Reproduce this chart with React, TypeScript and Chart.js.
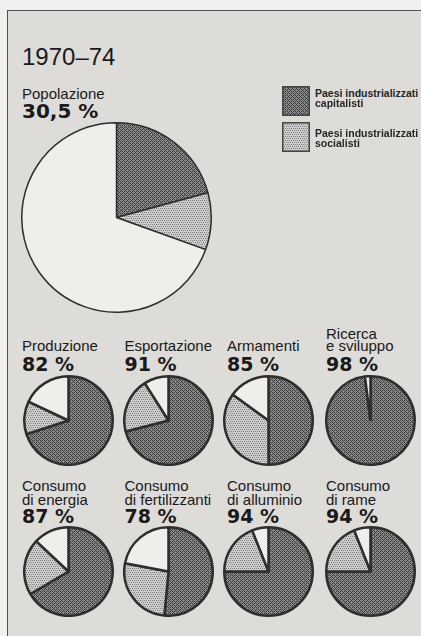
import React, { useEffect, useRef } from 'react';
import { Chart, registerables } from 'chart.js';

Chart.register(...registerables);

// ---- data ----
const groups = ['Paesi industrializzati capitalisti', 'Paesi industrializzati socialisti', 'Resto del mondo'];
const legendLines = [
  ['Paesi industrializzati', 'capitalisti'],
  ['Paesi industrializzati', 'socialisti'],
];

const mainTitle = '1970–74';
const populationLabel = 'Popolazione';
const populationPercent = '30,5 %';
const populationValues = [20.8, 9.7, 69.5];

const smallTitles = [
  ['Produzione'],
  ['Esportazione'],
  ['Armamenti'],
  ['Ricerca', 'e sviluppo'],
  ['Consumo', 'di energia'],
  ['Consumo', 'di fertilizzanti'],
  ['Consumo', 'di alluminio'],
  ['Consumo', 'di rame'],
];
const smallPercents = ['82 %', '91 %', '85 %', '98 %', '87 %', '78 %', '94 %', '94 %'];
const capitalistShares = [70, 71, 50, 98, 66.5, 51.5, 75, 75];
const socialistShares = [12, 20, 35, 0, 20.5, 26.5, 19, 19];
const otherShares = [18, 9, 15, 2, 13, 22, 6, 6];

// ---- styling / layout ----
const BG = '#dddcd8';
const OUTER_BG = '#efefed';
const WHITE = '#efeeea';
const LINE = '#2e2e2e';
const TEXT = '#1a1a1a';
const SANS = '"Liberation Sans", Arial, Helvetica, sans-serif';
const BOLD = '"DejaVu Sans", "Liberation Sans", sans-serif';

const colTextX = [22, 124.5, 227, 326];
const pieCX = [68, 168.5, 268.5, 370];
const rowPieCY = [420.5, 571];
const rowTitleBase = [351, 504.3];
const rowTitleGap = [12.5, 13.8];
const rowPercentBase = [371, 523.3];

function makeTile(kind: 'dark' | 'light'): HTMLCanvasElement {
  const t = document.createElement('canvas');
  t.width = 4;
  t.height = 4;
  const c = t.getContext('2d')!;
  if (kind === 'dark') {
    c.fillStyle = '#8a8a8a';
    c.fillRect(0, 0, 4, 4);
    c.fillStyle = '#3a3a3a';
    for (let x = 0; x < 4; x++)
      for (let y = 0; y < 4; y++)
        if ((x + y) % 4 === 0 || (x - y + 4) % 4 === 0) c.fillRect(x, y, 1, 1);
  } else {
    c.fillStyle = '#cdcdcb';
    c.fillRect(0, 0, 4, 4);
    c.fillStyle = '#808080';
    for (let x = 0; x < 4; x += 2)
      for (let y = 0; y < 4; y += 2) c.fillRect(x + ((y / 2) % 2), y, 1, 1);
  }
  return t;
}

function PieChart({ values, cx, cy, size, border }: { values: number[]; cx: number; cy: number; size: number; border: number }) {
  const ref = useRef<HTMLCanvasElement>(null);
  useEffect(() => {
    const canvas = ref.current!;
    const ctx = canvas.getContext('2d')!;
    const dark = ctx.createPattern(makeTile('dark'), 'repeat')!;
    const light = ctx.createPattern(makeTile('light'), 'repeat')!;
    const chart = new Chart(canvas, {
      type: 'pie',
      data: {
        labels: groups,
        datasets: [
          {
            data: values,
            backgroundColor: [dark, light, WHITE] as any,
            borderColor: LINE,
            borderWidth: border,
            hoverOffset: 0,
            offset: 0,
          },
        ],
      },
      options: {
        responsive: false,
        animation: false,
        events: [],
        layout: { padding: 0 },
        plugins: { legend: { display: false }, tooltip: { enabled: false }, title: { display: false } },
      },
    });
    return () => chart.destroy();
  }, []);
  return (
    <canvas
      ref={ref}
      width={size}
      height={size}
      style={{ position: 'absolute', left: cx - size / 2, top: cy - size / 2, width: size, height: size }}
    />
  );
}

function Txt({ x, base, size, bold, children, color }: { x: number; base: number; size: number; bold?: boolean; children: React.ReactNode; color?: string }) {
  return (
    <span
      style={{
        position: 'absolute',
        left: x,
        top: base - 0.846 * size,
        fontSize: size,
        lineHeight: `${size}px`,
        fontFamily: bold ? BOLD : SANS,
        fontWeight: bold ? 700 : 400,
        color: color || TEXT,
        whiteSpace: 'nowrap',
      }}
    >
      {children}
    </span>
  );
}

function LegendBox({ kind, x, y }: { kind: 'dark' | 'light'; x: number; y: number }) {
  const ref = useRef<HTMLCanvasElement>(null);
  useEffect(() => {
    const c = ref.current!.getContext('2d')!;
    c.fillStyle = c.createPattern(makeTile(kind), 'repeat')!;
    c.fillRect(0, 0, 28, 30);
    c.strokeStyle = '#444444';
    c.lineWidth = 1.5;
    c.strokeRect(0.75, 0.75, 26.5, 28.5);
  }, []);
  return <canvas ref={ref} width={28} height={30} style={{ position: 'absolute', left: x, top: y, width: 28, height: 30 }} />;
}

export default function App() {
  const legendTop = [86, 122];
  const legendBase = [[96.7, 107], [137, 147.3]];
  return (
    <div style={{ position: 'absolute', left: 0, top: 0, width: 421, height: 636, overflow: 'hidden', background: OUTER_BG }}>
      <div
        style={{
          position: 'absolute',
          left: 7,
          top: 10,
          width: 440,
          height: 660,
          background: BG,
          borderLeft: '1.5px solid #505050',
          borderTop: '1.5px solid #505050',
        }}
      />
      <Txt x={22} base={65} size={24}>{mainTitle}</Txt>
      <Txt x={22} base={98.3} size={15}>{populationLabel}</Txt>
      <Txt x={22} base={117.5} size={20} bold>{populationPercent}</Txt>

      {legendLines.map((lines, i) => (
        <React.Fragment key={i}>
          <LegendBox kind={i === 0 ? 'dark' : 'light'} x={282} y={legendTop[i]} />
          {lines.map((l, j) => (
            <span
              key={j}
              style={{
                position: 'absolute',
                left: 315,
                top: legendBase[i][j] - 0.846 * 10.5,
                fontSize: 10.5,
                lineHeight: '10.5px',
                fontFamily: SANS,
                fontWeight: 700,
                color: '#262626',
                whiteSpace: 'nowrap',
              }}
            >
              {l}
            </span>
          ))}
        </React.Fragment>
      ))}

      <PieChart values={populationValues} cx={116.5} cy={217.5} size={191} border={1.5} />

      {smallTitles.map((lines, i) => {
        const row = Math.floor(i / 4);
        const col = i % 4;
        const n = lines.length;
        return (
          <React.Fragment key={i}>
            {lines.map((l, j) => (
              <Txt key={j} x={colTextX[col]} base={rowTitleBase[row] - (n - 1 - j) * rowTitleGap[row]} size={15}>
                {l}
              </Txt>
            ))}
            <Txt x={colTextX[col]} base={rowPercentBase[row]} size={19} bold>
              {smallPercents[i]}
            </Txt>
            <PieChart
              values={[capitalistShares[i], socialistShares[i], otherShares[i]]}
              cx={pieCX[col]}
              cy={rowPieCY[row]}
              size={91}
              border={2.5}
            />
          </React.Fragment>
        );
      })}
    </div>
  );
}
